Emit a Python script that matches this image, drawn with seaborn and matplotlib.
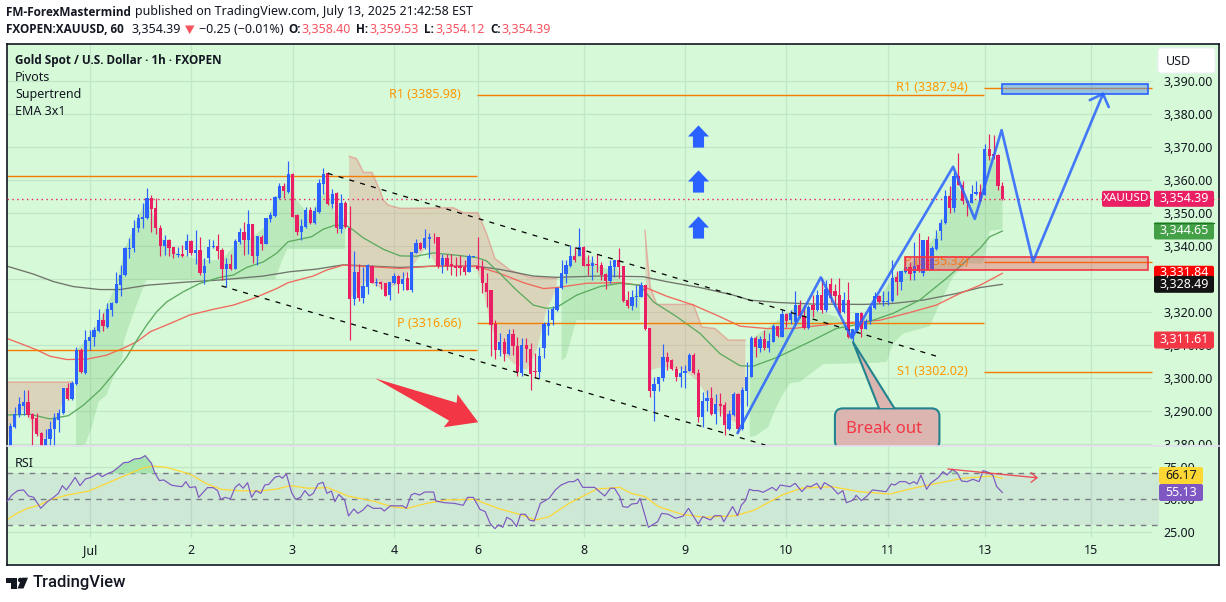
import numpy as np
import pandas as pd
import matplotlib
matplotlib.use("Agg")
import matplotlib.pyplot as plt
from matplotlib.patches import FancyBboxPatch, Circle, Rectangle
import seaborn as sns

# hourly candles
opens = [3279.0,3285.3,3288.9,3291.6,3292.8,3289.1,3287.9,3283.3,3278.0,3281.7,3284.8,3287.3,3289.6,3297.2,3293.8,3298.3,3308.6,3301.5,3311.4,3312.4,
 3314.2,3317.6,3315.6,3320.7,3322.9,3328.2,3331.2,3339.3,3339.5,3345.5,3348.3,3348.5,3354.5,3351.5,3345.7,3340.1,3341.9,3339.7,3337.5,3337.8,
 3338.9,3341.7,3338.0,3338.9,3332.0,3336.5,3339.7,3340.1,3338.9,3333.2,3334.6,3333.2,3341.3,3344.3,3342.0,3346.7,3337.0,3342.9,3340.8,3348.3,
 3349.3,3354.6,3358.3,3356.4,3361.9,3349.5,3344.3,3345.9,3351.0,3347.1,3350.4,3358.9,3362.1,3352.8,3356.2,3345.1,3353.2,3345.7,3323.9,3332.2,
 3324.3,3327.8,3334.0,3328.8,3329.3,3328.8,3325.1,3328.8,3331.0,3328.6,3330.3,3326.9,3338.1,3340.9,3339.4,3342.3,3342.9,3342.9,3334.3,3336.6,
 3334.5,3334.0,3334.0,3333.8,3332.3,3336.8,3334.1,3333.6,3329.0,3326.7,3316.4,3308.6,3311.0,3307.5,3313.4,3309.9,3301.7,3310.1,3308.9,3302.2,
 3301.8,3309.1,3316.0,3317.6,3320.7,3327.3,3331.6,3334.0,3337.0,3337.0,3339.8,3334.6,3334.1,3334.5,3334.2,3331.6,3329.6,3333.8,3336.0,3334.0,
 3323.7,3321.9,3324.5,3324.7,3328.2,3315.3,3296.2,3298.3,3300.2,3306.4,3305.5,3302.8,3300.3,3301.5,3302.2,3307.0,3301.5,3288.4,3293.2,3293.9,
 3289.2,3292.2,3291.8,3284.5,3288.9,3295.4,3284.5,3296.2,3300.3,3312.1,3309.1,3311.8,3309.2,3311.1,3315.8,3312.6,3319.5,3317.6,3317.1,3322.2,
 3318.9,3315.4,3322.2,3320.7,3325.2,3320.7,3328.5,3326.4,3325.2,3320.2,3323.7,3312.1,3314.6,3319.7,3314.9,3317.4,3321.3,3324.9,3323.0,3323.2,
 3323.4,3330.7,3329.2,3332.3,3333.8,3331.8,3334.3,3332.0,3341.9,3332.8,3339.2,3344.7,3347.1,3355.2,3351.7,3361.3,3358.7,3353.8,3353.2,3355.8,
 3356.5,3355.6,3369.4,3367.9,3367.6,3358.40]
highs = [3286.5,3291.2,3294.4,3296.6,3296.4,3289.4,3289.4,3283.8,3284.8,3287.1,3289.6,3290.8,3297.2,3298.5,3299.3,3309.4,3309.3,3314.6,3314.6,3315.6,
 3321.0,3319.7,3322.7,3323.2,3332.2,3334.3,3339.7,3342.4,3347.9,3349.8,3353.2,3357.8,3355.5,3354.5,3346.6,3343.4,3342.2,3339.7,3339.7,3340.3,
 3343.7,3341.9,3344.9,3342.7,3336.6,3342.1,3341.9,3343.6,3339.4,3336.6,3337.6,3342.2,3345.6,3347.4,3351.0,3346.7,3343.2,3343.4,3348.6,3350.5,
 3355.2,3359.3,3359.3,3365.8,3362.1,3349.7,3348.2,3351.8,3351.8,3351.8,3360.4,3363.7,3362.6,3357.5,3356.5,3355.8,3353.8,3352.2,3338.6,3334.5,
 3333.6,3334.6,3334.3,3330.5,3329.5,3328.8,3329.3,3331.8,3331.3,3332.3,3332.3,3338.4,3342.1,3341.4,3345.1,3344.1,3344.1,3342.9,3337.8,3337.8,
 3337.8,3336.8,3337.3,3335.8,3337.6,3337.0,3342.7,3335.8,3331.8,3326.7,3317.6,3313.6,3312.1,3315.1,3314.8,3312.6,3312.1,3312.1,3310.6,3307.8,
 3309.6,3317.1,3320.9,3321.9,3327.7,3335.8,3336.0,3340.4,3339.7,3345.7,3340.1,3337.3,3337.0,3337.8,3335.3,3331.8,3335.8,3336.0,3339.4,3334.0,
 3326.5,3326.7,3328.2,3329.3,3328.2,3315.3,3300.5,3300.5,3310.4,3308.1,3306.0,3303.7,3303.7,3304.0,3307.8,3307.8,3302.8,3295.9,3296.4,3297.4,
 3295.4,3295.6,3292.9,3290.4,3295.9,3295.6,3297.4,3305.0,3312.9,3312.9,3312.9,3314.6,3313.6,3316.6,3315.8,3320.7,3319.9,3320.7,3326.4,3323.7,
 3322.2,3322.2,3325.2,3326.7,3330.3,3329.8,3330.3,3328.7,3330.3,3326.2,3329.2,3315.1,3319.7,3320.2,3318.1,3321.9,3326.2,3325.2,3326.4,3326.4,
 3335.8,3332.6,3332.6,3336.8,3335.3,3341.4,3343.9,3341.9,3343.1,3340.0,3344.9,3348.4,3357.2,3358.2,3362.6,3368.4,3359.7,3354.0,3358.5,3359.7,
 3359.0,3371.0,3374.0,3373.7,3367.9,3359.53]
lows = [3277.0,3285.1,3288.2,3288.9,3288.4,3277.0,3282.5,3277.0,3277.0,3277.0,3277.0,3283.8,3289.2,3293.4,3293.4,3298.0,3301.5,3301.3,3308.6,3309.8,
 3313.9,3314.4,3315.4,3318.9,3322.7,3324.9,3331.0,3336.6,3338.4,3344.4,3345.4,3348.2,3344.3,3343.7,3337.0,3337.3,3337.0,3336.6,3336.8,3336.8,
 3337.0,3337.3,3334.6,3331.2,3328.6,3335.0,3339.4,3336.3,3329.8,3327.8,3332.8,3333.2,3340.7,3337.5,3337.8,3335.0,3334.2,3338.9,3340.7,3347.4,
 3349.0,3354.4,3354.5,3356.2,3349.0,3343.4,3341.9,3345.7,3346.9,3346.9,3350.2,3356.0,3352.5,3351.5,3344.1,3344.1,3345.4,3311.6,3322.3,3323.5,
 3322.9,3325.5,3328.8,3327.9,3327.2,3324.9,3323.7,3328.6,3325.9,3326.7,3326.7,3326.2,3337.9,3338.9,3339.1,3336.5,3341.1,3333.3,3331.8,3332.8,
 3331.3,3331.0,3331.2,3331.2,3332.2,3336.8,3332.8,3325.9,3321.5,3306.7,3306.0,3306.7,3305.2,3307.2,3307.0,3300.7,3300.7,3305.0,3296.4,3300.0,
 3300.0,3306.3,3313.1,3316.1,3320.4,3327.2,3328.8,3333.8,3335.3,3337.0,3334.1,3331.3,3329.8,3332.3,3329.8,3327.2,3328.8,3330.8,3330.3,3323.2,
 3321.2,3320.7,3321.7,3324.5,3314.6,3294.4,3287.2,3296.2,3299.3,3302.5,3302.5,3299.3,3297.5,3297.2,3302.1,3301.3,3286.8,3285.3,3290.2,3288.9,
 3286.1,3288.6,3282.8,3284.3,3288.6,3283.3,3284.3,3291.6,3300.3,3306.5,3308.1,3308.6,3308.1,3310.9,3312.6,3312.6,3315.6,3316.6,3316.1,3318.4,
 3315.1,3315.0,3318.6,3320.5,3319.9,3320.2,3323.2,3321.7,3319.2,3319.9,3312.1,3310.1,3313.6,3312.4,3314.8,3316.6,3321.1,3322.9,3321.9,3322.2,
 3323.2,3325.2,3326.9,3332.0,3329.8,3329.8,3332.3,3331.0,3332.8,3332.8,3339.0,3341.9,3346.9,3350.2,3350.5,3358.5,3352.8,3349.1,3353.0,3355.5,
 3353.5,3355.5,3366.1,3366.6,3357.0,3354.12]
closes = [3285.5,3289.1,3292.2,3292.8,3288.9,3287.8,3283.0,3278.0,3281.7,3284.5,3287.9,3289.4,3297.2,3293.8,3298.5,3308.6,3302.0,3311.6,3312.4,3314.6,
 3317.6,3315.8,3321.0,3322.9,3328.5,3331.3,3339.6,3339.6,3345.7,3348.5,3348.9,3354.5,3351.3,3345.5,3340.1,3341.9,3339.6,3337.6,3337.8,3337.0,
 3341.6,3338.0,3338.9,3332.0,3334.0,3339.7,3340.0,3338.7,3333.1,3334.6,3333.1,3341.6,3344.3,3342.0,3346.7,3337.0,3343.2,3340.8,3348.6,3349.5,
 3354.8,3358.3,3356.7,3361.9,3349.0,3344.3,3346.1,3351.0,3347.1,3350.7,3359.1,3361.9,3352.8,3356.0,3345.4,3353.2,3345.9,3324.1,3332.2,3324.3,
 3327.9,3334.3,3329.0,3329.3,3328.6,3324.9,3329.2,3331.0,3328.6,3330.2,3326.9,3338.4,3340.9,3339.1,3342.4,3342.7,3342.7,3334.1,3336.6,3334.0,
 3334.0,3333.3,3333.3,3332.3,3337.0,3337.0,3333.0,3328.8,3326.2,3316.1,3308.6,3311.0,3307.3,3313.4,3309.8,3301.9,3310.1,3308.8,3301.3,3302.0,
 3306.7,3316.6,3316.8,3320.9,3327.3,3331.8,3334.3,3337.0,3336.0,3339.9,3334.1,3334.1,3334.8,3334.2,3331.2,3329.6,3334.0,3336.0,3333.8,3323.5,
 3321.9,3324.7,3324.9,3328.2,3314.8,3296.2,3298.3,3300.5,3306.4,3305.0,3302.7,3300.5,3301.7,3302.2,3307.0,3301.5,3288.4,3293.2,3293.9,3289.2,
 3292.2,3291.6,3285.8,3289.1,3295.4,3284.5,3296.4,3300.3,3312.1,3309.4,3311.9,3309.1,3311.3,3315.9,3312.8,3319.5,3317.4,3319.7,3322.2,3318.8,
 3315.4,3321.5,3320.7,3325.2,3320.7,3327.2,3324.2,3325.0,3319.9,3323.7,3312.4,3314.9,3319.7,3314.9,3317.4,3321.7,3324.9,3323.2,3323.5,3323.5,
 3330.3,3329.2,3332.6,3333.8,3331.6,3334.0,3332.5,3341.9,3332.8,3339.6,3342.1,3347.2,3355.2,3351.7,3361.3,3358.5,3353.7,3353.2,3356.0,3356.5,
 3353.8,3369.4,3367.4,3367.3,3358.3,3354.39]

# moving averages: bar number, price
ema_fast_x = [-0.8,4.5,9.0,13.2,16.6,20.3,23.4,26.4,28.7,30.9,33.2,35.5,39.2,43.0,47.5,50.6,53.6,57.4,60.4,63.0,68.3,71.0,73.6,76.3,77.8,80.0,84.6,88.4,92.1,95.9,101.2,105.7,108.0,111.0,114.8,118.6,121.6,123.9,128.4,133.7,138.2,142.8,145.8,151.1,156.4,160.9,165.5,168.5,173.8,182.1,187.3,193.4,200.2,206.2,212.3,216.1,219.9,222.1,225]
ema_fast_y = [3288.9,3289.1,3287.7,3288.7,3291.9,3296.4,3301.3,3306.5,3311.6,3316.1,3320.2,3323.2,3326.2,3328.8,3330.6,3331.3,3333.6,3335.3,3337.9,3341.4,3342.9,3345.2,3346.4,3346.2,3344.9,3342.6,3339.1,3337.1,3337.0,3338.0,3337.3,3336.6,3335.6,3331.8,3326.7,3322.2,3321.2,3321.5,3325.2,3327.8,3328.8,3328.2,3323.2,3318.7,3313.6,3307.5,3303.8,3303.7,3306.3,3311.6,3315.1,3316.6,3319.7,3323.7,3330.3,3334.8,3339.4,3342.9,3344.65]
ema_mid_x = [-0.8,2.2,6.0,9.0,12.8,17.3,21.8,25.6,28.7,31.7,36.2,40.7,46.0,50.6,55.1,60.4,63.0,68.7,71.7,75.5,79.3,88.4,95.9,105.7,111.0,116.3,120.9,123.9,130.7,138.2,142.8,148.8,154.9,160.9,165.5,171.5,177.5,187.3,197.2,204.7,210.0,215.3,219.9,225]
ema_mid_y = [3312.1,3310.6,3308.6,3306.7,3305.7,3305.8,3307.0,3309.1,3311.1,3314.1,3316.6,3319.2,3320.9,3322.2,3324.2,3327.2,3329.0,3331.0,3332.8,3334.3,3334.0,3333.3,3334.0,3334.0,3331.8,3329.0,3327.2,3327.5,3328.8,3329.0,3328.2,3324.9,3322.2,3318.7,3315.8,3315.1,3315.1,3316.6,3317.6,3320.2,3322.2,3325.7,3328.2,3331.84]
ema_slow_x = [-0.8,5.2,9.8,14.3,20.3,24.9,30.9,39.2,47.5,57.4,63.4,69.5,75.5,88.4,95.9,105.7,111.0,118.6,123.9,133.7,143.5,148.8,156.4,164.0,167.7,173.8,182.1,193.4,200.2,207.0,214.6,219.9,225]
ema_slow_y = [3334.0,3331.6,3329.3,3327.8,3326.9,3326.9,3328.2,3329.1,3329.8,3331.0,3332.3,3333.1,3334.4,3333.6,3334.0,3334.0,3333.0,3331.0,3330.6,3331.0,3330.8,3329.3,3327.5,3325.2,3323.7,3323.0,3322.5,3322.4,3322.7,3323.7,3325.7,3327.5,3328.49]

# supertrend zones
bull1_x = [14.9,17.2,20.3,24.0,26.0,27.9,30.9,32.9,34.0,37.7,43.0,47.9,51.3,55.1,58.1,60.0,62.8,64.0,68.0,70.2,72.1,73.6,75.9,75.9,62.8,61.9,60.8,60.0,30.8,27.9,25.8,25.5,23.7,21.8,20.0,18.5,17.0,14.9]
bull1_y = [3308.6,3311.6,3317.7,3328.3,3339.4,3345.4,3354.5,3347.9,3342.9,3337.9,3335.8,3335.8,3340.9,3342.9,3346.4,3354.5,3359.1,3355.5,3349.0,3355.0,3357.0,3350.0,3348.0,3339.2,3339.2,3336.6,3332.8,3330.0,3329.8,3319.7,3311.6,3306.5,3301.5,3294.9,3292.9,3285.3,3280.1,3279.5]
bull2_x = [125.0,125.4,126.9,128.4,133.0,136.0,137.5,139.8,141.3,142.8,142.8,128.4,127.3,126.0,125.0]
bull2_y = [3327.7,3330.8,3335.8,3338.9,3334.3,3332.8,3333.8,3323.7,3324.7,3327.7,3317.6,3317.6,3312.6,3306.5,3305.3]
bull3_x = [167.7,175.3,179.1,182.1,187.3,190.8,194.9,200.2,206.2,210.8,213.8,216.8,219.9,221.0,223.6,225.0,225.0,222.1,220.6,216.8,213.8,210.8,208.5,202.5,200.2,198.7,196.4,184.3,179.1,176.8,174.9,173.4,171.9,168.9,167.7]
bull3_y = [3311.6,3318.7,3322.7,3320.7,3318.7,3314.6,3319.7,3330.8,3336.8,3344.9,3360.1,3354.0,3354.0,3369.2,3365.1,3354.2,3345.2,3344.7,3334.8,3334.8,3330.8,3322.7,3315.8,3313.6,3310.6,3305.0,3304.7,3304.3,3299.0,3298.5,3294.4,3290.4,3285.3,3282.5,3282.3]
bear1_x = [-0.8,13.9,13.9,12.0,10.5,9.0,7.5,5.2,3.7,2.2,0.7,-0.8]
bear1_y = [3298.9,3298.9,3294.4,3293.4,3287.3,3283.3,3281.3,3284.3,3290.4,3290.4,3287.3,3279.8]
bear2_x = [76.8,78.5,80.1,82.0,83.8,84.6,85.7,88.4,100.5,102.7,106.0,108.0,109.9,111.4,113.3,117.8,123.9,123.9,121.6,119.4,117.1,114.1,111.0,108.8,106.9,105.7,103.5,99.7,96.7,94.4,90.6,88.4,84.6,80.8,77.8,76.8]
bear2_y = [3367.3,3366.6,3362.4,3362.4,3357.0,3354.0,3352.5,3351.5,3351.7,3350.2,3350.2,3343.9,3336.3,3334.8,3332.8,3330.6,3330.3,3327.2,3320.7,3308.6,3302.5,3304.5,3308.6,3316.6,3328.8,3333.3,3333.8,3333.8,3333.8,3339.9,3332.8,3328.8,3326.7,3329.8,3324.7,3324.7]
bear3_x = [143.9,144.3,145.1,146.6,154.9,156.8,159.8,162.8,166.7,166.7,164.7,160.2,155.6,152.6,148.1,145.1,144.1]
bear3_y = [3344.9,3338.9,3327.8,3322.4,3322.4,3315.6,3315.1,3311.6,3311.6,3298.5,3286.3,3290.4,3299.5,3302.5,3303.5,3302.5,3327.7]

# rsi
rsi_x = [-0.8,0.35,1.7,3.0,4.1,5.3,6.9,8.4,9.8,10.9,11.8,12.7,13.8,14.7,15.8,17.0,18.3,19.9,20.8,21.9,23.2,24.5,25.7,26.8,28.1,29.5,30.6,32.0,32.8,33.8,34.8,36.5,37.5,38.9,39.8,40.7,42.0,42.7,44.7,46.0,47.0,47.7,48.7,49.9,51.0,51.9,52.8,53.8,54.7,55.7,56.8,57.7,58.6,60.0,61.0,61.7,62.6,63.8,64.7,65.8,66.8,67.8,68.7,69.8,70.9,71.8,72.8,73.6,74.5,75.8,76.7,77.9,78.8,80.0,81.0,82.3,84.1,84.8,86.2,87.7,88.9,89.8,90.9,91.7,92.8,94.0,96.0,96.5,98.5,100.7,102.7,103.7,105.0,106.5,107.7,108.8,109.9,110.7,111.7,112.6,113.7,114.8,115.7,116.8,117.7,118.8,120.2,121.3,122.2,123.6,124.9,126.7,127.8,128.7,129.8,132.5,133.6,134.8,136.1,137.0,138.2,
 138.9,140.0,140.9,142.2,142.8,144.7,146.8,147.7,149.2,150.9,152.6,153.8,156.0,157.0,158.8,159.7,161.2,161.8,163.8,164.9,165.8,166.7,167.6,168.5,169.6,170.7,172.8,173.7,174.6,176.8,178.0,179.5,180.7,181.5,182.9,183.8,184.6,186.2,187.7,188.8,189.6,191.2,191.8,193.0,194.3,195.5,198.6,199.8,200.6,201.7,203.0,203.9,204.9,205.6,206.5,207.8,208.7,210.5,211.5,212.4,213.7,214.8,215.7,217.0,218.3,219.7,220.6,221.4,222.8,223.7,225]
rsi_y = [48.2,53.3,56.7,57.2,52.6,51.5,43.1,48.2,51.5,54.6,60.5,57.2,62.3,66.9,60.5,65.6,66.9,70.0,67.4,69.5,71.3,74.6,78.2,78.5,81.0,81.5,83.6,77.7,70.0,64.4,64.9,61.0,60.3,59.7,63.6,59.0,59.7,51.5,59.0,59.0,56.7,50.0,51.5,50.3,59.2,61.8,58.5,62.8,51.5,56.7,54.6,61.0,61.5,66.9,67.9,66.2,69.5,55.1,50.0,51.5,56.7,52.6,54.6,61.8,63.1,54.6,56.4,48.2,53.8,49.5,37.2,42.6,39.2,41.8,45.6,43.1,43.1,41.0,45.1,44.9,45.1,43.1,53.3,54.6,53.3,55.6,55.6,48.7,47.4,46.9,45.4,51.5,51.5,42.3,40.5,31.5,27.4,30.3,28.5,36.2,34.1,29.0,38.5,38.5,34.1,33.3,46.9,49.0,50.8,57.2,61.0,63.6,63.6,65.6,59.2,59.2,55.9,52.6,58.5,58.5,52.1,
 44.4,43.8,46.4,46.9,50.8,28.5,32.8,39.2,38.5,35.4,37.2,43.1,31.0,36.7,34.1,37.4,37.4,32.8,44.4,37.4,45.6,49.0,57.7,56.7,56.7,55.4,59.2,56.7,61.0,59.7,62.3,55.9,60.3,59.7,62.3,57.7,62.8,59.7,54.1,56.7,47.4,49.5,53.1,49.0,52.6,57.2,55.9,61.8,61.0,63.6,63.6,61.8,63.6,61.8,68.5,57.7,62.3,66.9,71.3,68.7,73.1,70.0,64.1,63.6,65.4,63.6,72.1,71.3,68.7,59.7,55.13]
rsi_ma_x = [-0.8,1.2,3.9,6.6,9.3,12.9,17.8,21.9,26.3,29.9,32.2,35.3,40.7,44.3,47.8,51.4,56.8,60.4,63.5,67.6,72.0,76.5,82.8,86.4,90.0,94.4,98.9,105.2,110.6,116.0,119.1,122.2,126.7,133.0,138.2,140.8,143.9,147.0,152.2,157.5,164.5,168.8,175.0,179.4,186.4,192.5,199.5,204.7,210.9,216.1,222.7,225]
rsi_ma_y = [34.1,38.7,43.1,45.6,50.0,53.3,56.4,62.3,68.7,73.8,75.6,74.6,69.5,62.3,57.7,56.7,56.4,57.9,60.5,58.5,59.0,52.6,48.2,44.4,43.1,46.9,49.5,50.0,43.1,37.9,34.1,36.7,46.9,57.9,59.2,54.6,52.1,44.4,38.5,36.2,37.4,41.8,53.3,58.5,59.7,55.9,54.1,58.5,62.8,66.2,67.9,66.17]

# axis ticks
price_ticks = [3280,3290,3300,3310,3320,3330,3340,3350,3360,3370,3380,3390]
rsi_ticks = [25,50,75]
date_ticks = [18,41,64,87,106,130,153,176,199,221,245]
date_labels = ['Jul','2','3','4','6','8','9','10','11','13','15']

# drawings
zigzag_x = [164.9,183.8,190.8,213.8,218.7,224.8,231.9,247.8]
zigzag_y = [3283.4,3330.6,3312.2,3364.1,3348.3,3375.2,3335.3,3386.2]
zigzag_head_x = [244.8,247.8,249.1]
zigzag_head_y = [3384.3,3386.2,3382.2]
sell_arrow_x = [82.7,101.2,101.4,106.1,98.3,99.5]
sell_arrow_y = [3300.0,3292.6,3295.2,3286.7,3285.2,3287.2]
up_arrow_x = [155.9,155.9,155.9]
up_arrow_y = [3373.3,3359.8,3345.8]

BG = '#d6f9d7'
GRID = '#c2e6c8'
INK = '#131722'
BLUE = '#2962ff'
PINK = '#e91e63'
ORANGE = '#f57c00'
PIVOT_TXT = '#ff9800'
SELL = '#f23645'
TEAL = '#22838f'
PURPLE = '#7e57c2'
YELLOW = '#fdd835'
BOLD_FONT = 'Open Sans'
BOLD_SIZE = 8.5

sns.set_style("white")
plt.rcParams['font.family'] = ['Noto Sans', 'DejaVu Sans']
plt.rcParams['font.size'] = 9

W, H = 1226, 602
fig = plt.figure(figsize=(W / 100, H / 100), dpi=100, facecolor='white')
ax = fig.add_axes([7 / W, 1 - 446 / H, 1212 / W, 402 / H], facecolor=BG)
rsi = fig.add_axes([7 / W, 1 - 565 / H, 1212 / W, 119 / H], facecolor=BG)

for a in (ax, rsi):
    a.set_xlim(-0.755, 274.1)
    a.set_xticks(date_ticks)
    a.tick_params(length=0, colors=INK, labelsize=9)
    a.yaxis.tick_right()
    a.set_axisbelow(True)
    for s in a.spines.values():
        s.set_color(INK)
        s.set_linewidth(1.2)
ax.spines['bottom'].set_color('#e3e0ee')
rsi.spines['top'].set_color('#e3e0ee')
ax.set_ylim(3279.5, 3401.3)
rsi.set_ylim(-0.5, 91)

ax.set_yticks(price_ticks)
ax.set_yticklabels([f'{v:,.2f}' for v in price_ticks])
ax.tick_params(axis='y', pad=-40)
ax.tick_params(axis='x', labelbottom=False)
rsi.set_yticks(rsi_ticks)
rsi.set_yticklabels([f'{v:.2f}' for v in rsi_ticks])
rsi.tick_params(axis='y', pad=-40)
rsi.set_xticklabels(date_labels)
rsi.tick_params(axis='x', pad=-15)

# grid
ax.hlines(price_ticks, -0.755, 259, color=GRID, lw=0.9, zorder=0)
ax.vlines(date_ticks, 3279.5, 3401.3, color=GRID, lw=0.9, zorder=0)
rsi.hlines([25, 75], -0.755, 259, color=GRID, lw=0.9, zorder=0)
rsi.vlines(date_ticks, 21, 91, color=GRID, lw=0.9, zorder=0)

# supertrend zones
for zx, zy in [(bull1_x, bull1_y), (bull2_x, bull2_y), (bull3_x, bull3_y)]:
    ax.fill(zx, zy, color='#4caf50', alpha=0.2, lw=0, zorder=1)
for zx, zy in [(bear1_x, bear1_y), (bear2_x, bear2_y), (bear3_x, bear3_y)]:
    ax.fill(zx, zy, color='#e6847a', alpha=0.3, lw=0, zorder=1)
ax.plot(bear1_x[:2], bear1_y[:2], color=SELL, alpha=0.3, lw=1.1, zorder=1.5)
ax.plot(bear2_x[:17], bear2_y[:17], color=SELL, alpha=0.3, lw=1.1, zorder=1.5)
ax.plot(bear3_x[:9], bear3_y[:9], color=SELL, alpha=0.3, lw=1.1, zorder=1.5)

# emas
for ex, ey, col in [(ema_slow_x, ema_slow_y, '#6f756c'), (ema_mid_x, ema_mid_y, '#f0695c'), (ema_fast_x, ema_fast_y, '#5cab60')]:
    sns.lineplot(x=ex, y=ey, ax=ax, color=col, lw=0.95, estimator=None, sort=False, zorder=2)

# pivots
pivots = pd.DataFrame({
    'start': [-0.755, -0.755, 105.8, 105.8, 220.8, 220.8, 220.8],
    'end': [105.8, 105.8, 220.7, 220.7, 259, 259, 259],
    'level': [3361.2, 3308.5, 3385.98, 3316.66, 3387.94, 3335.32, 3302.02],
})
ax.hlines(pivots.level, pivots.start, pivots.end, color=ORANGE, lw=1.0, zorder=2.5)
ax.text(102.2, 3386.0, 'R1 (3385.98)', color=PIVOT_TXT, ha='right', va='center', zorder=2.5)
ax.text(102.2, 3316.6, 'P (3316.66)', color=PIVOT_TXT, ha='right', va='center', zorder=2.5)
ax.text(217.2, 3388.0, 'R1 (3387.94)', color=PIVOT_TXT, ha='right', va='center', zorder=2.5)
ax.text(217.2, 3335.3, 'P (3335.32)', color=PIVOT_TXT, ha='right', va='center', zorder=2.5)
ax.text(217.2, 3302.0, 'S1 (3302.02)', color=PIVOT_TXT, ha='right', va='center', zorder=2.5)

# candles
df = pd.DataFrame({'o': opens, 'h': highs, 'l': lows, 'c': closes})
df['i'] = np.arange(len(df))
df['col'] = np.where(df.c >= df.o, BLUE, PINK)
ax.vlines(df.i, df.l, df.h, colors=df.col, lw=0.85, zorder=3)
ax.bar(df.i, (df.c - df.o).abs().clip(lower=0.25), bottom=df[['o', 'c']].min(axis=1), width=0.74, color=df.col, lw=0, zorder=3.1)

# last price
ax.axhline(closes[-1], color=PINK, lw=1, ls=(0, (1, 2.5)), zorder=2.6)

# dashed channel
ax.plot([72, 210.8], [3362.1, 3306.4], color='black', lw=0.9, ls=(0, (4, 5)), zorder=4)
ax.plot([47.9, 171.2], [3328.0, 3279.8], color='black', lw=0.9, ls=(0, (4, 5)), zorder=4)

# zones
ax.add_patch(Rectangle((203.0, 3332.8), 55, 4.0, fc=SELL, alpha=0.33, lw=0, zorder=4.2))
ax.add_patch(Rectangle((203.0, 3332.8), 55, 4.0, fc='none', ec=SELL, lw=1.2, zorder=4.3))
ax.add_patch(Rectangle((224.9, 3386.2), 33.1, 2.9, fc='#5b8fe8', alpha=0.5, lw=0, zorder=4.2))
ax.add_patch(Rectangle((224.9, 3386.2), 33.1, 2.9, fc='none', ec=BLUE, lw=1.2, zorder=4.3))

# projected path
sns.lineplot(x=zigzag_x, y=zigzag_y, ax=ax, color=BLUE, lw=1.9, alpha=0.85, estimator=None, sort=False, zorder=5)
sns.lineplot(x=zigzag_head_x, y=zigzag_head_y, ax=ax, color=BLUE, lw=1.9, alpha=0.85, estimator=None, sort=False, zorder=5)
ax.fill(sell_arrow_x, sell_arrow_y, color=SELL, lw=0, zorder=5)
arrow_marker = [(-0.5, -1), (0.5, -1), (0.5, 0), (0.95, 0), (0, 1), (-0.95, 0), (-0.5, 0), (-0.5, -1)]
ax.scatter(up_arrow_x, up_arrow_y, marker=arrow_marker, s=255, color=BLUE, lw=0, zorder=5)

# break out callout
box = FancyBboxPatch((187.0, 3278.6), 23.7, 12.3, boxstyle='round,pad=0,rounding_size=1.8',
                     mutation_aspect=1.34, fc='#dcb5b1', ec=TEAL, lw=1.5, zorder=6)
ax.add_patch(box)
ax.fill([191.1, 197.0, 200.5], [3311, 3291.0, 3291.0], color='#dcb5b1', lw=0, zorder=6.1)
ax.plot([197.0, 191.1, 200.5], [3290.9, 3311, 3290.9], color=TEAL, lw=1.5, zorder=6.2)
ax.text(198.1, 3284.6, 'Break out', color=SELL, fontsize=12, ha='center', va='center', zorder=6.3)

# rsi pane
rsi.axhspan(30, 70, xmin=0, xmax=(260.5 + 0.755) / 274.855, color=PURPLE, alpha=0.1, lw=0, zorder=0.5)
rsi.hlines([30, 50, 70], -0.755, 260.5, color='#787b86', lw=1, ls=(0, (4, 4)), zorder=1)
rsi_arr = np.array(rsi_y)
rsi.fill_between(rsi_x, rsi_arr, 70, where=rsi_arr >= 70, interpolate=True, color='#a6e4b0', lw=0, zorder=1.2)
sns.lineplot(x=rsi_ma_x, y=rsi_ma_y, ax=rsi, color=YELLOW, lw=0.9, estimator=None, sort=False, zorder=2)
sns.lineplot(x=rsi_x, y=rsi_y, ax=rsi, color=PURPLE, lw=0.85, estimator=None, sort=False, zorder=3)
rsi.plot([212.6, 232.8], [73.3, 66.6], color=SELL, lw=1, alpha=0.85, zorder=4)
rsi.plot([231.5, 232.8, 231.5], [70.5, 66.6, 63.1], color=SELL, lw=1, alpha=0.85, zorder=4)
for a in (ax, rsi):
    a.set_xlabel('')
    a.set_ylabel('')

# overlay in figure pixels for header, tags and logo
top = fig.add_axes([0, 0, 1, 1], facecolor='none', zorder=10)
top.set_xlim(0, W)
top.set_ylim(H, 0)
top.axis('off')


def px_y(val):
    return H - ax.transData.transform((0, val))[1]


def tag(x0, x1, yc, h, col, txt, tcol='white', fs=9):
    top.add_patch(FancyBboxPatch((x0 + 1, yc - h / 2 + 1), x1 - x0 - 2, h - 2, boxstyle='round,pad=1,rounding_size=2', fc=col, ec='none'))
    top.text((x0 + x1) / 2, yc - 0.3, txt, color=tcol, ha='center', va='center', fontsize=fs)


tag(1102, 1150, px_y(closes[-1]), 16, PINK, 'XAUUSD', fs=8.4)
tag(1154, 1214, px_y(closes[-1]), 16, PINK, '3,354.39')
tag(1154, 1214, px_y(3344.65), 17, '#43a047', '3,344.65')
top.plot([1154, 1214], [222.5, 222.5], color='#1b7a1f', lw=1)
tag(1154, 1214, px_y(3331.84), 15, '#ff0000', '3,331.84')
tag(1154, 1214, px_y(3328.49), 17, '#131313', '3,328.49')
tag(1154, 1214, px_y(3311.61), 17, SELL, '3,311.61')
tag(1159, 1203, 475.5, 17, YELLOW, '66.17', INK)
tag(1159, 1203, 492.5, 17, PURPLE, '55.13')
top.add_patch(FancyBboxPatch((1160, 50), 53, 21, boxstyle='round,pad=2,rounding_size=3', fc='white', ec='#eceff4', lw=0.8))
top.text(1166, 61.5, 'USD', color=INK, va='center', fontsize=9)

top.text(15, 60.5, 'Gold Spot / U.S. Dollar · 1h · FXOPEN', color=INK, family=BOLD_FONT, weight='bold', fontsize=BOLD_SIZE, va='center')
top.text(15, 77.5, 'Pivots', color=INK, va='center')
top.text(15, 94.5, 'Supertrend', color=INK, va='center')
top.text(15, 111.5, 'EMA 3x1', color=INK, va='center')
top.text(15, 463.5, 'RSI', color=INK, va='center')

# header lines
top.text(6, 12, 'FM-ForexMastermind', color=INK, family=BOLD_FONT, weight='bold', fontsize=BOLD_SIZE, va='center')
top.text(135, 12, 'published on TradingView.com, July 13, 2025 21:42:58 EST', color=INK, va='center')
top.text(6, 29.5, 'FXOPEN:XAUUSD, 60', color=INK, family=BOLD_FONT, weight='bold', fontsize=BOLD_SIZE, va='center')
top.text(132, 29.5, '3,354.39', color=INK, va='center')
top.fill([185, 194.5, 189.7], [25.5, 25.5, 34], color='#f7525f', lw=0)
top.text(199, 29.5, '−0.25 (−0.01%)', color=INK, va='center')
for lab_x, lab, val_x, val in [(288, 'O:', 301, '3,358.40'), (356, 'H:', 369, '3,359.53'), (424, 'L:', 435, '3,354.12'), (490, 'C:', 502, '3,354.39')]:
    top.text(lab_x, 29.5, lab, color=INK, family=BOLD_FONT, weight='bold', fontsize=BOLD_SIZE, va='center')
    top.text(val_x, 29.5, val, color='#f7525f', va='center')

# logo
top.fill([6, 16.5, 16.5, 11, 11, 6], [577.7, 577.7, 588.5, 588.5, 582.5, 582.5], color=INK, lw=0)
top.add_patch(Circle((20.3, 580), 2.3, color=INK, lw=0))
top.fill([28, 23.5, 17.5, 22], [577.7, 588.5, 588.5, 577.7], color=INK, lw=0)
top.text(33, 583, 'TradingView', color=INK, fontsize=12, family='Roboto', weight='medium', va='center')

fig.savefig('out.png', dpi=100, facecolor='white')
